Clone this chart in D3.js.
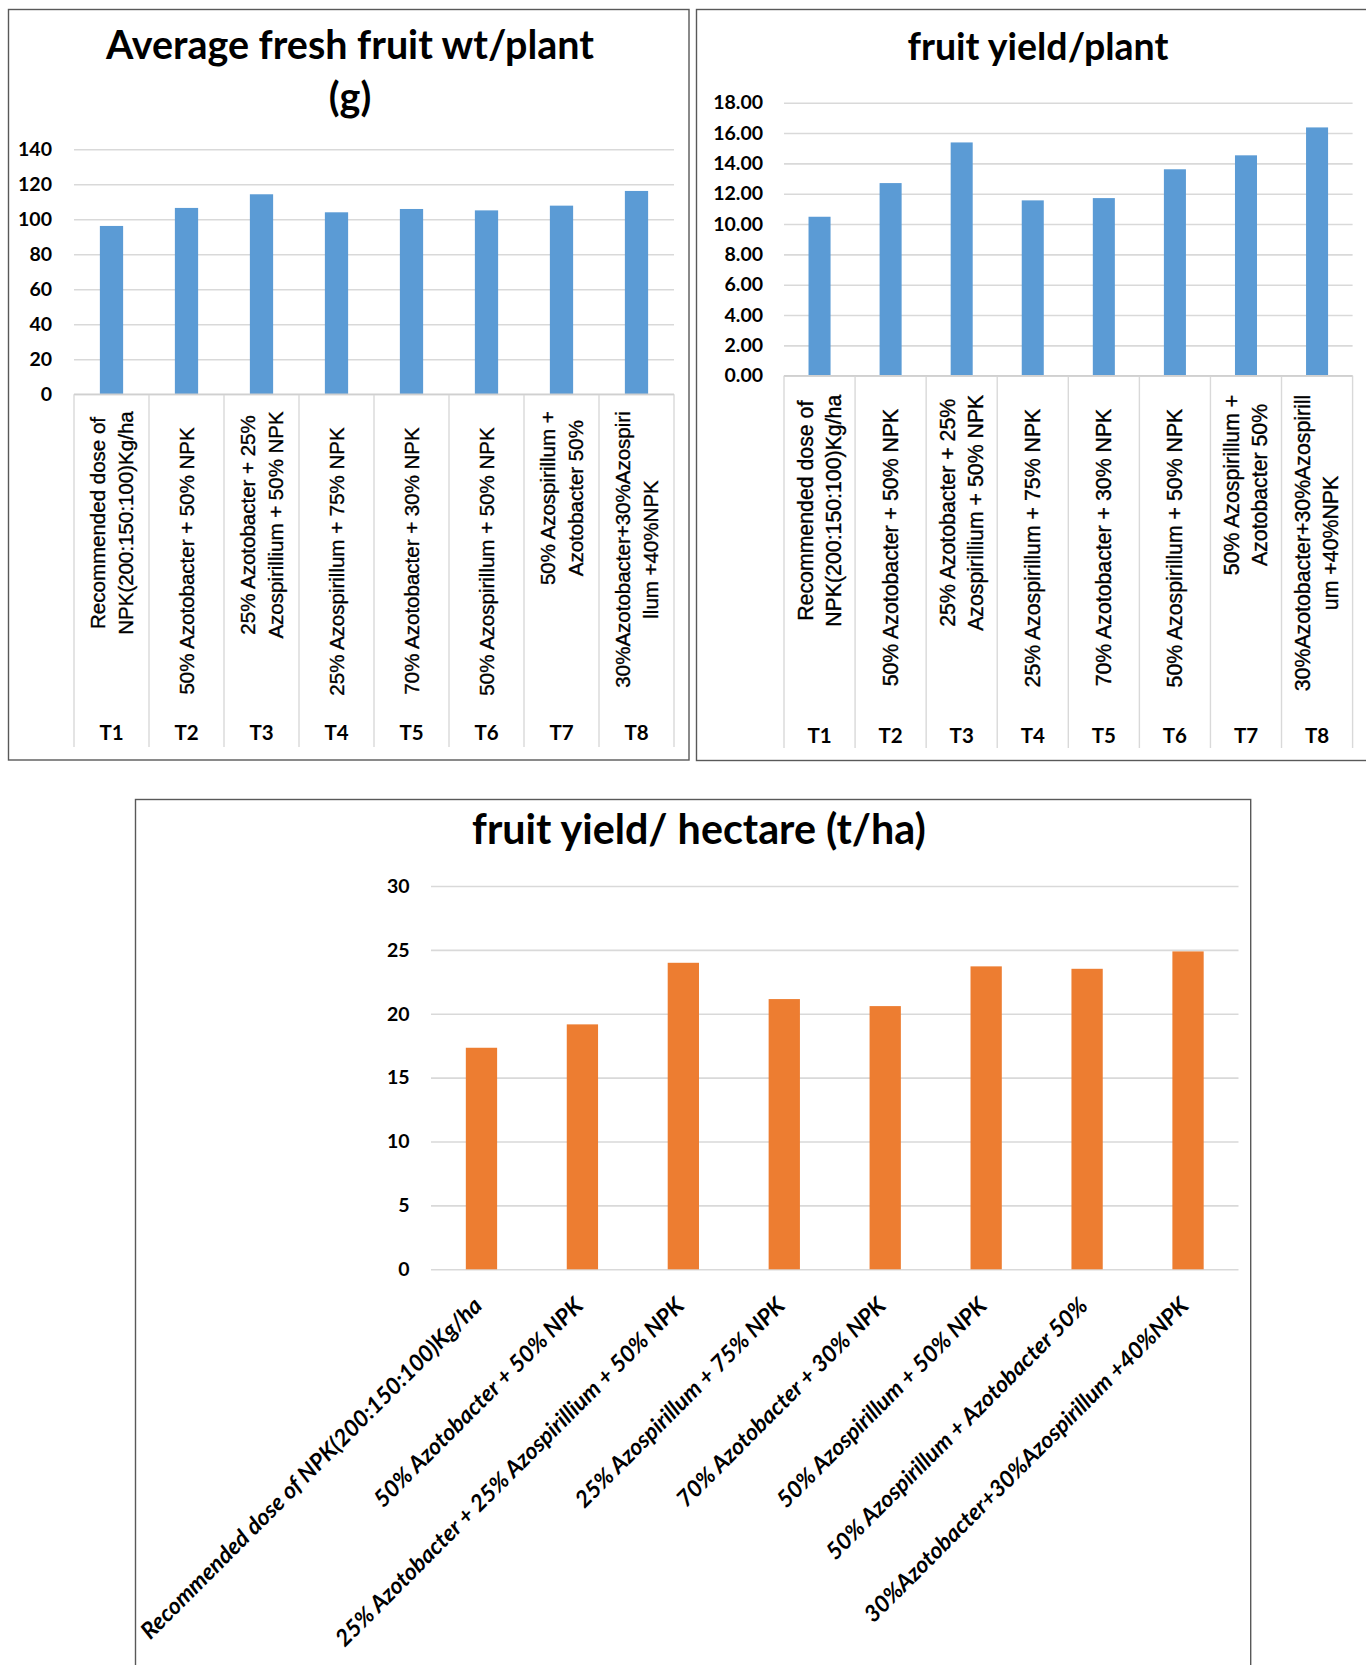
<!DOCTYPE html>
<html>
<head>
<meta charset="utf-8">
<script src="https://cdn.jsdelivr.net/npm/d3@7"></script>
<style>
  body { margin: 0; background: #fff; }
  svg { display: block; }
</style>
</head>
<body>
<svg id="fig" width="1366" height="1665"></svg>
<script>
// ---- data ----
const treatments = ["T1", "T2", "T3", "T4", "T5", "T6", "T7", "T8"];

const treatmentNames = [
  "Recommended dose of NPK(200:150:100)Kg/ha",
  "50% Azotobacter + 50% NPK",
  "25% Azotobacter + 25% Azospirillium + 50% NPK",
  "25% Azospirillum + 75% NPK",
  "70% Azotobacter + 30% NPK",
  "50% Azospirillum + 50% NPK",
  "50% Azospirillum + Azotobacter 50%",
  "30%Azotobacter+30%Azospirillum +40%NPK"
];

// wrapped category text as it appears under the two upper charts
const weightLabelLines = [
  ["Recommended dose of", "NPK(200:150:100)Kg/ha"],
  ["50% Azotobacter + 50% NPK"],
  ["25% Azotobacter + 25%", "Azospirillium + 50% NPK"],
  ["25% Azospirillum + 75% NPK"],
  ["70% Azotobacter + 30% NPK"],
  ["50% Azospirillum + 50% NPK"],
  ["50% Azospirillum +", "Azotobacter 50%"],
  ["30%Azotobacter+30%Azospiri", "llum +40%NPK"]
];
const plantLabelLines = [
  ["Recommended dose of", "NPK(200:150:100)Kg/ha"],
  ["50% Azotobacter + 50% NPK"],
  ["25% Azotobacter + 25%", "Azospirillium + 50% NPK"],
  ["25% Azospirillum + 75% NPK"],
  ["70% Azotobacter + 30% NPK"],
  ["50% Azospirillum + 50% NPK"],
  ["50% Azospirillum +", "Azotobacter 50%"],
  ["30%Azotobacter+30%Azospirill", "um +40%NPK"]
];

const fruitWeight     = [96.2, 106.5, 114.3, 104.0, 105.9, 105.1, 107.8, 116.2];
const yieldPerPlant   = [10.48, 12.70, 15.38, 11.56, 11.71, 13.61, 14.53, 16.37];
const yieldPerHectare = [17.34, 19.17, 23.99, 21.15, 20.60, 23.71, 23.52, 24.88];

const weightTicks  = [0, 20, 40, 60, 80, 100, 120, 140];
const plantTicks   = [0, 2, 4, 6, 8, 10, 12, 14, 16, 18];
const hectareTicks = [0, 5, 10, 15, 20, 25, 30];

const titleWeight  = ["Average fresh fruit wt/plant", "(g)"];
const titlePlant   = ["fruit yield/plant"];
const titleHectare = ["fruit yield/ hectare (t/ha)"];

// ---- styling ----
const BLUE = "#5B9BD5";
const ORANGE = "#ED7D31";
const GRID = "#D9D9D9";
const FRAME = "#595959";
const TITLE_FONT = "Lato, 'Open Sans', sans-serif";
const LABEL_FONT = "'Liberation Sans', Arial, sans-serif";

const svg = d3.select("#fig");

function frame(x, y, w, h) {
  svg.append("rect")
    .attr("x", x).attr("y", y).attr("width", w).attr("height", h)
    .attr("fill", "#fff").attr("stroke", FRAME).attr("stroke-width", 1.4);
}

function fitWidth(sel, w) {
  const len = sel.node().getComputedTextLength();
  const fs = parseFloat(sel.attr("font-size"));
  sel.attr("font-size", fs * w / len);
}

function title(lines, cx, baselines, size, width) {
  let fitted = null;
  lines.forEach((t, i) => {
    const s = svg.append("text")
      .attr("x", cx).attr("y", baselines[i])
      .attr("text-anchor", "middle")
      .attr("font-family", TITLE_FONT).attr("font-weight", 700)
      .attr("font-size", size).attr("fill", "#000")
      .text(t);
    if (i === 0) { fitWidth(s, width); fitted = s.attr("font-size"); }
    else s.attr("font-size", fitted);
  });
}

// Column chart with grid, value axis and bars
function columnChart(o) {
  const g = svg.append("g");
  const x = d3.scaleBand().domain(treatments)
    .range([o.x0, o.x1]).paddingInner(0.69).paddingOuter(0.345);
  const y = d3.scaleLinear().domain([0, o.max]).range([o.yZero, o.yTop]);

  const axis = d3.axisLeft(y).tickValues(o.ticks)
    .tickSize(-(o.x1 - o.x0)).tickPadding(o.tickPad)
    .tickFormat(o.fmt);
  const ag = g.append("g").attr("transform", `translate(${o.x0},0)`).call(axis);
  ag.select(".domain").remove();
  ag.selectAll(".tick line").attr("stroke", GRID).attr("stroke-width", 1.6);
  ag.selectAll(".tick text")
    .attr("font-family", TITLE_FONT).attr("font-weight", 700)
    .attr("font-size", o.tickSize).attr("fill", "#000");

  g.selectAll("rect.bar").data(o.values).join("rect")
    .attr("class", "bar")
    .attr("x", (d, i) => x(treatments[i]))
    .attr("width", x.bandwidth())
    .attr("y", d => y(d))
    .attr("height", d => y(0) - y(d))
    .attr("fill", o.color);
  return { x, y, g };
}

// Boxed category axis with rotated wrapped names and treatment codes
function boxedCategories(c, o) {
  const step = c.x.step();
  const g = c.g.append("g");
  d3.range(treatments.length + 1).forEach(i => {
    g.append("line")
      .attr("x1", o.x0 + i * step).attr("x2", o.x0 + i * step)
      .attr("y1", o.yZero).attr("y2", o.divBottom)
      .attr("stroke", GRID).attr("stroke-width", 1.4);
  });
  g.append("line").attr("x1", o.x0).attr("x2", o.x1)
    .attr("y1", o.yZero).attr("y2", o.yZero)
    .attr("stroke", "#D0D0D0").attr("stroke-width", 1.6);

  o.lines.forEach((lines, i) => {
    const cx = c.x(treatments[i]) + c.x.bandwidth() / 2;
    const texts = lines.map(t => g.append("text")
      .attr("font-family", LABEL_FONT).attr("font-size", o.labelSize)
      .attr("fill", "#000").attr("stroke", "#000").attr("stroke-width", 0.35)
      .attr("text-anchor", "middle")
      .attr("dominant-baseline", "central").text(t));
    const longest = d3.max(texts, s => s.node().getComputedTextLength());
    const top = o.yZero + (lines.length > 1 ? o.multiGap : o.singleGap);
    const cy = top + longest / 2;
    texts.forEach((s, j) => {
      const lx = cx + (j - (lines.length - 1) / 2) * o.lineGap;
      s.attr("transform", `translate(${lx},${cy}) rotate(-90)`);
    });
    g.append("text")
      .attr("x", cx).attr("y", o.codeY)
      .attr("text-anchor", "middle").attr("dominant-baseline", "central")
      .attr("font-family", TITLE_FONT).attr("font-weight", 700)
      .attr("font-size", 20.5).attr("fill", "#000")
      .text(treatments[i]);
  });
}

// ---- chart 1: average fresh fruit weight ----
frame(8.5, 9.5, 680.5, 750.5);
title(titleWeight, 350, [58.5, 111], 38, 488);
const c1opts = {
  x0: 74, x1: 674, yZero: 394.3, yTop: 149.3, max: 140,
  ticks: weightTicks, fmt: d3.format("d"), tickPad: 22, tickSize: 19.5,
  values: fruitWeight, color: BLUE
};
const c1 = columnChart(c1opts);
boxedCategories(c1, Object.assign({}, c1opts, {
  lines: weightLabelLines, labelSize: 20.5, lineGap: 27.5,
  multiGap: 17, singleGap: 33, divBottom: 747, codeY: 732
}));

// ---- chart 2: fruit yield per plant ----
frame(696.5, 9.5, 700, 751);
title(titlePlant, 1038, [60], 36, 261);
const c2opts = {
  x0: 784, x1: 1352.6, yZero: 375.7, yTop: 102.7, max: 18,
  ticks: plantTicks, fmt: d3.format(".2f"), tickPad: 21, tickSize: 19.5,
  values: yieldPerPlant, color: BLUE
};
const c2 = columnChart(c2opts);
boxedCategories(c2, Object.assign({}, c2opts, {
  lines: plantLabelLines, labelSize: 21.3, lineGap: 28,
  multiGap: 19, singleGap: 33, divBottom: 748, codeY: 735
}));

// ---- chart 3: fruit yield per hectare ----
frame(135.5, 799.5, 1115.2, 900);
title(titleHectare, 699, [843.5], 38, 454);
const c3opts = {
  x0: 431, x1: 1238.5, yZero: 1269.3, yTop: 886, max: 30,
  ticks: hectareTicks, fmt: d3.format("d"), tickPad: 21.5, tickSize: 19.5,
  values: yieldPerHectare, color: ORANGE
};
const c3 = columnChart(c3opts);
c3.g.append("g").selectAll("text").data(treatmentNames).join("text")
  .attr("font-family", TITLE_FONT).attr("font-weight", 700)
  .attr("font-style", "italic").attr("font-size", 23).attr("fill", "#000")
  .attr("text-anchor", "end")
  .attr("transform", (d, i) => {
    const cx = c3.x(treatments[i]) + c3.x.bandwidth() / 2;
    return `translate(${cx + 2},${c3opts.yZero + 38}) rotate(-45)`;
  })
  .text(d => d);
</script>
</body>
</html>
